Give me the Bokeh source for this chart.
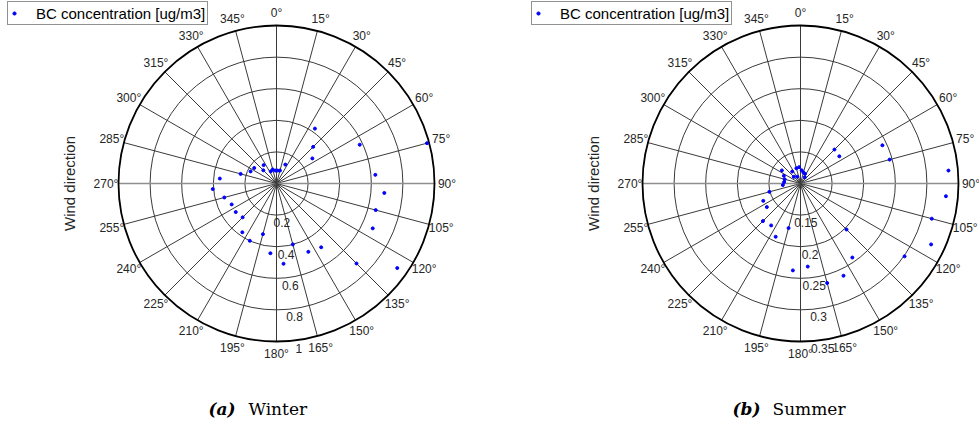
import numpy as np
from bokeh.plotting import figure
from bokeh.layouts import row
from bokeh.models import Range1d, Legend, LegendItem, ColumnDataSource
from bokeh.core.properties import value
from bokeh.embed import file_html
from bokeh.resources import INLINE

# Wind direction sectors (degrees clockwise from north, sector centres)
directions = [5, 15, 25, 35, 45, 55, 65, 75, 85, 95, 105, 115,
              125, 135, 145, 155, 165, 175, 185, 195, 205, 215, 225, 235,
              245, 255, 265, 275, 285, 295, 305, 315, 325, 335, 345, 355]

# Mean BC concentration per sector [ug/m3]
winter_bc = [0.082, 0.085, 0.132, 0.424, 0.328, 0.277, 0.581, 0.986, 0.628, 0.685, 0.650, 0.672,
             0.933, 0.716, 0.493, 0.477, 0.399, 0.510, 0.443, 0.332, 0.400, 0.377, 0.303, 0.315,
             0.313, 0.342, 0.405, 0.360, 0.235, 0.181, 0.172, 0.118, 0.142, 0.085, 0.092, 0.082]

summer_bc = [0.121, 0.118, 0.117, 0.112, 0.176, 0.175, 0.243, 0.246, 0.335, 0.331, 0.315, 0.328,
             0.301, 0.203, 0.243, 0.261, 0.263, 0.232, 0.238, 0.173, 0.193, 0.181, 0.184, 0.165,
             0.165, 0.151, 0.128, 0.126, 0.126, 0.129, 0.136, 0.115, 0.123, 0.112, 0.125, 0.126]

winter_rlim = (0.0, 1.0)
winter_rticks = [0.2, 0.4, 0.6, 0.8, 1.0]
winter_rtick_labels = ["0.2", "0.4", "0.6", "0.8", "1"]

summer_rlim = (0.1, 0.35)
summer_rticks = [0.15, 0.2, 0.25, 0.3, 0.35]
summer_rtick_labels = ["0.15", "0.2", "0.25", "0.3", "0.35"]

theta_ticks = [0, 15, 30, 45, 60, 75, 90, 105, 120, 135, 150, 165,
               180, 195, 210, 225, 240, 255, 270, 285, 300, 315, 330, 345]
theta_tick_labels = ["0°", "15°", "30°", "45°", "60°", "75°", "90°", "105°", "120°",
                     "135°", "150°", "165°", "180°", "195°", "210°", "225°", "240°",
                     "255°", "270°", "285°", "300°", "315°", "330°", "345°"]

legend_label = "BC concentration [ug/m3]"

# Layout (pixels)
H = 433
R_PX = 158.0      # outer ring radius
CY = 183          # polar centre height from top
TEXT = "#262626"
GRID = "#3a3a3a"
SANS = "Liberation Sans"


def polar_xy(theta_deg, rho):
    t = np.radians(np.asarray(theta_deg, dtype=float))
    rho = np.asarray(rho, dtype=float)
    return rho * np.sin(t), rho * np.cos(t)


def panel(width, cx, bc, rlim, rticks, rlabels, tag, season):
    def px(x):
        return (x - cx) / R_PX

    def py(y):
        return (CY - y) / R_PX

    p = figure(width=width, height=H, output_backend="svg", toolbar_location=None,
               x_range=Range1d(px(0), px(width)), y_range=Range1d(py(H), py(0)),
               x_axis_location=None, y_axis_location=None, min_border=0,
               outline_line_color=None, background_fill_color="white",
               border_fill_color="white")
    p.xgrid.visible = False
    p.ygrid.visible = False

    r0, r1 = rlim
    ring_rho = [(r - r0) / (r1 - r0) for r in rticks]

    # circular grid
    p.circle(x=[0] * (len(ring_rho) - 1), y=[0] * (len(ring_rho) - 1),
             radius=ring_rho[:-1], fill_color=None, line_color=GRID, line_width=1)

    # spokes
    xs, ys = polar_xy(theta_ticks, 1.0)
    for th, x1, y1 in zip(theta_ticks, xs, ys):
        col = "#8f8f8f" if th in (90, 270) else GRID
        lw = 1.6 if th in (90, 270) else 1
        p.segment(x0=0, y0=0, x1=x1, y1=y1, line_color=col, line_width=lw)

    # outer boundary
    p.circle(x=[0], y=[0], radius=[1.0], fill_color=None, line_color="black", line_width=1.8)

    # data
    dx, dy = polar_xy(directions, (np.asarray(bc) - r0) / (r1 - r0))
    src = ColumnDataSource(dict(x=dx, y=dy))
    sc = p.scatter("x", "y", source=src, marker="circle", size=3,
                   fill_color="#0000ff", line_color="#0000ff")

    # theta tick labels
    tx, ty = polar_xy(theta_ticks, 170.5 / R_PX)
    p.text(x=tx, y=ty, text=theta_tick_labels, text_align="center", text_baseline="middle",
           text_font=value(SANS), text_font_size="12px", text_color=TEXT)

    # radial tick labels
    rx, ry = polar_xy([172.3] * len(ring_rho), np.asarray(ring_rho) + 8.0 / R_PX)
    p.text(x=rx, y=ry, text=rlabels, text_align="center", text_baseline="middle",
           text_font=value(SANS), text_font_size="12px", text_color=TEXT)

    # axis title
    p.text(x=[px(cx - 207)], y=[0], text=["Wind direction"], angle=np.pi / 2,
           text_align="center", text_baseline="middle",
           text_font=value(SANS), text_font_size="15px", text_color=TEXT)

    # caption
    p.text(x=[px(cx - 68)], y=[py(408)], text=[tag], text_align="left",
           text_baseline="alphabetic", text_font=value("DejaVu Serif"),
           text_font_style="bold italic", text_font_size="17px", text_color="black")
    p.text(x=[px(cx - 28)], y=[py(408)], text=[season], text_align="left",
           text_baseline="alphabetic", text_font=value("DejaVu Serif"),
           text_font_size="17px", text_color="black")

    legend = Legend(items=[LegendItem(label=legend_label, renderers=[sc])],
                    location=(cx - 269, H - 25), padding=2, margin=0, spacing=0,
                    glyph_width=8, glyph_height=18, label_height=18, label_standoff=18,
                    label_text_font=SANS, label_text_font_size="15px",
                    label_text_color="black", border_line_color=TEXT,
                    border_line_width=1, background_fill_alpha=1)
    p.add_layout(legend)
    return p


p_winter = panel(525, 276, winter_bc, winter_rlim, winter_rticks, winter_rtick_labels, "(a)", "Winter")
p_summer = panel(454, 275, summer_bc, summer_rlim, summer_rticks, summer_rtick_labels, "(b)", "Summer")

layout = row(p_winter, p_summer, spacing=0)
open("out.html", "w").write(file_html(layout, INLINE))
